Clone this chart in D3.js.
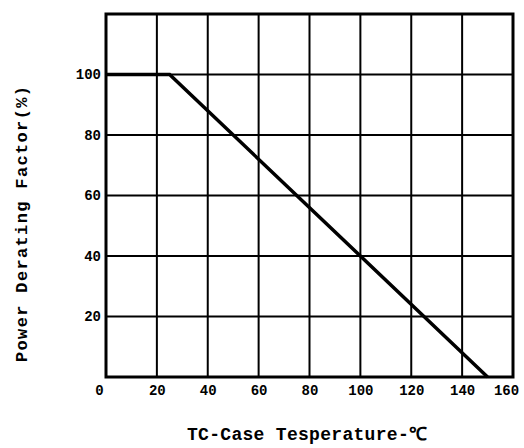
<!DOCTYPE html>
<html>
<head>
<meta charset="utf-8">
<script src="https://cdn.jsdelivr.net/npm/d3@7"></script>
<style>
  body { margin: 0; background: #fff; }
  text { font-family: "Liberation Mono", "DejaVu Sans Mono", monospace; font-weight: bold; fill: #000; }
</style>
</head>
<body>
<svg width="524" height="448"></svg>
<script>
// derating curve (TC in deg C, % of rated power)
var tempC = [0, 25, 150];
var derating = [100, 100, 0];
var xTicks = [0, 20, 40, 60, 80, 100, 120, 140, 160];
var yTicks = [20, 40, 60, 80, 100];
var gridY = [20, 40, 60, 80, 100, 120];

var svg = d3.select("svg");
var margin = {left: 106, right: 11, top: 14, bottom: 71};
var w = 524 - margin.left - margin.right;
var h = 448 - margin.top - margin.bottom;

var x = d3.scaleLinear().domain([0, 160]).range([0, w]);
var y = d3.scaleLinear().domain([0, 120]).range([h, 0]);

var g = svg.append("g").attr("transform", "translate(" + margin.left + "," + margin.top + ")");

// grid
g.selectAll(".vg").data(xTicks).enter().append("line")
    .attr("x1", function(d) { return x(d); })
    .attr("x2", function(d) { return x(d); })
    .attr("y1", 0).attr("y2", h)
    .attr("stroke", "#000").attr("stroke-width", 2);

g.selectAll(".hg").data(gridY).enter().append("line")
    .attr("y1", function(d) { return y(d); })
    .attr("y2", function(d) { return y(d); })
    .attr("x1", 0).attr("x2", w)
    .attr("stroke", "#000").attr("stroke-width", 2);

// frame
g.append("rect").attr("width", w).attr("height", h)
    .attr("fill", "none").attr("stroke", "#000").attr("stroke-width", 3);

// curve
var pts = tempC.map(function(t, i) { return [t, derating[i]]; });
g.append("path")
    .datum(pts)
    .attr("fill", "none")
    .attr("stroke", "#000")
    .attr("stroke-width", 3.5)
    .attr("d", d3.line().x(function(d) { return x(d[0]); }).y(function(d) { return y(d[1]); }));

// axes labels (no axis lines, the grid does it)
var xAxis = g.append("g").attr("transform", "translate(0," + h + ")")
    .call(d3.axisBottom(x).tickValues(xTicks).tickSize(0).tickPadding(8));
xAxis.select(".domain").remove();
xAxis.selectAll("text").attr("font-size", 14).attr("font-family", null)
    .attr("dx", function(d) { return d === 0 ? -7 : (d === 160 ? -7 : 0); });

var yAxis = g.append("g")
    .call(d3.axisLeft(y).tickValues(yTicks).tickSize(0).tickPadding(5));
yAxis.select(".domain").remove();
yAxis.selectAll("text").attr("font-size", 14).attr("font-family", null);

// titles
svg.append("text")
    .attr("x", 307).attr("y", 440)
    .attr("text-anchor", "middle")
    .attr("font-size", 18)
    .attr("textLength", 240)
    .text("TC-Case Tesperature-℃");

svg.append("text")
    .attr("transform", "translate(27,224) rotate(-90)")
    .attr("text-anchor", "middle")
    .attr("font-size", 17)
    .attr("textLength", 276)
    .text("Power Derating Factor(%)");
</script>
</body>
</html>
